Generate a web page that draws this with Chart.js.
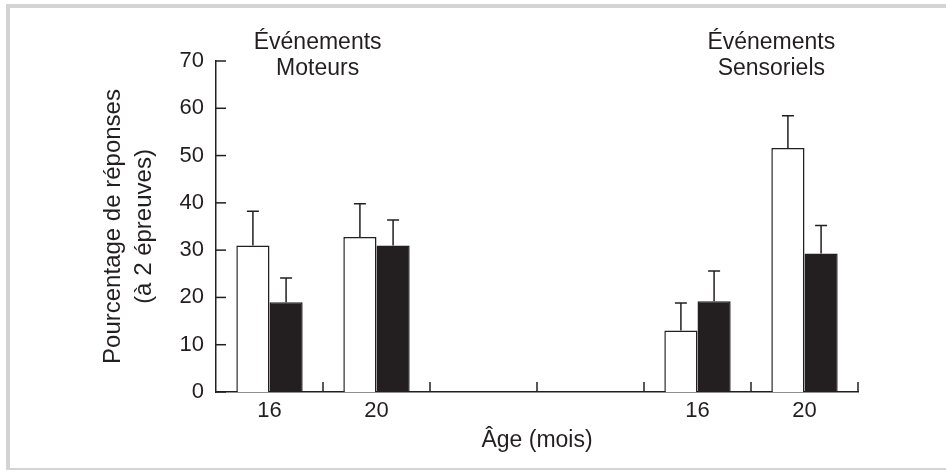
<!DOCTYPE html>
<html>
<head>
<meta charset="utf-8">
<script src="https://cdn.jsdelivr.net/npm/chart.js@4.4.1/dist/chart.umd.min.js"></script>
<style>
  html, body { margin: 0; padding: 0; background: #fff; }
  .frame { position: absolute; left: 6px; top: 4px; width: 1000px; height: 460px;
           border-left: 4px solid #d4d4d4; border-top: 4px solid #d4d4d4; border-bottom: 3px solid #d4d4d4; }
  .wrap { position: absolute; left: 0; top: 0; width: 946px; height: 470px; }
</style>
</head>
<body>
<div class="frame"></div>
<div class="wrap"><canvas id="chart" width="946" height="470"></canvas></div>
<script>
// Données
const ages = ['16', '20', '', '', '16', '20'];
const blancs = [31, 32.8, null, null, 13, 51.6];
const noirs = [19, 31, null, null, 19.2, 29.3];
const errBlancs = [7.2, 7, null, null, 5.8, 6.8];
const errNoirs = [5.1, 5.4, null, null, 6.4, 5.9];
const yTicks = [0, 10, 20, 30, 40, 50, 60, 70];
const groupes = [
  { lignes: ['Événements', 'Moteurs'], pos: 0.45 },
  { lignes: ['Événements', 'Sensoriels'], pos: 4.69 }
];

const INK = '#231f20';
const police = "'Liberation Sans', Arial, sans-serif";

// Barres d'erreur, graduations internes et titres de groupes
const decor = {
  id: 'decor',
  afterDatasetsDraw(chart) {
    const ctx = chart.ctx;
    const x = chart.scales.x, y = chart.scales.y;
    ctx.save();
    ctx.strokeStyle = INK;
    ctx.lineWidth = 1.5;
    [errBlancs, errNoirs].forEach((errs, d) => {
      const vals = chart.data.datasets[d].data;
      chart.getDatasetMeta(d).data.forEach((bar, i) => {
        if (vals[i] == null || errs[i] == null) return;
        const y0 = y.getPixelForValue(vals[i]);
        const y1 = y.getPixelForValue(vals[i] + errs[i]);
        ctx.beginPath();
        ctx.moveTo(bar.x, y0);
        ctx.lineTo(bar.x, y1);
        ctx.moveTo(bar.x - 6, y1);
        ctx.lineTo(bar.x + 6, y1);
        ctx.stroke();
      });
    });
    // graduations y vers l'intérieur
    yTicks.forEach(v => {
      const py = y.getPixelForValue(v);
      ctx.beginPath();
      ctx.moveTo(x.left, py);
      ctx.lineTo(x.left + 10, py);
      ctx.stroke();
    });
    // graduations x aux limites des catégories
    for (let i = 0; i < ages.length; i++) {
      const px = x.getPixelForValue(i + 0.5);
      ctx.beginPath();
      ctx.moveTo(px, y.bottom);
      ctx.lineTo(px, y.bottom - 10);
      ctx.stroke();
    }
    // titres des groupes
    ctx.fillStyle = INK;
    ctx.font = '23px ' + police;
    ctx.textAlign = 'center';
    ctx.textBaseline = 'middle';
    groupes.forEach(g => {
      const px = x.getPixelForValue(g.pos);
      g.lignes.forEach((t, k) => ctx.fillText(t, px, 43 + k * 26));
    });
    ctx.restore();
  }
};

new Chart(document.getElementById('chart'), {
  type: 'bar',
  data: {
    labels: ages,
    datasets: [
      { data: blancs, backgroundColor: '#ffffff', borderColor: INK, borderWidth: 1.5, borderSkipped: 'start' },
      { data: noirs, backgroundColor: INK, borderColor: INK, borderWidth: 1.5, borderSkipped: 'start' }
    ]
  },
  options: {
    responsive: false,
    animation: false,
    layout: { padding: { left: 98, right: 88, top: 61, bottom: 10 } },
    datasets: { bar: { barPercentage: 1, categoryPercentage: 0.62 } },
    plugins: { legend: { display: false }, tooltip: { enabled: false } },
    scales: {
      x: {
        grid: { display: false, drawTicks: false },
        border: { display: true, color: INK, width: 1.5 },
        ticks: { color: INK, font: { family: police, size: 22 }, padding: 6, maxRotation: 0 },
        title: { display: true, text: 'Âge (mois)', color: INK, font: { family: police, size: 23 }, padding: { top: 0, bottom: 6 } },
        afterFit(s) { s.height = 68; }
      },
      y: {
        min: 0, max: 70,
        grid: { display: false, drawTicks: false },
        border: { display: true, color: INK, width: 1.5 },
        ticks: { stepSize: 10, color: INK, font: { family: police, size: 22 }, padding: 12 },
        title: { display: true, text: ['Pourcentage de réponses', '(à 2 épreuves)'], color: INK, font: { family: police, size: 24, lineHeight: 1.3 }, padding: 0 },
        afterFit(s) { s.width = 118; }
      }
    }
  },
  plugins: [decor]
});
</script>
</body>
</html>
